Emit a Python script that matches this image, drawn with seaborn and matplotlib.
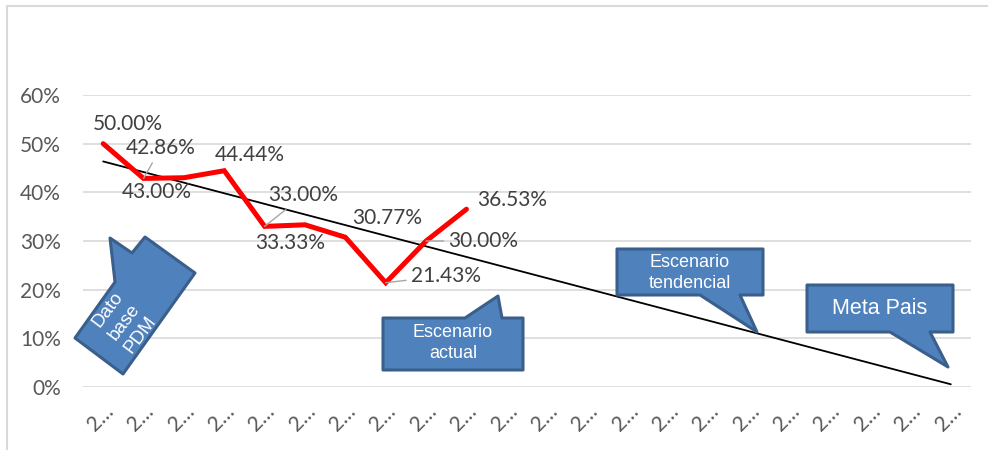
import numpy as np
import pandas as pd
import matplotlib
matplotlib.use('Agg')
import matplotlib.pyplot as plt
from matplotlib.patches import Polygon
from matplotlib.lines import Line2D
import seaborn as sns

# data
tick_labels = ['2\u2026'] * 22
actual = [0.50, 0.4286, 0.43, 0.4444, 0.33, 0.3333, 0.3077, 0.2143, 0.30, 0.3653]
actual_labels = ['50.00%', '42.86%', '43.00%', '44.44%', '33.00%',
                 '33.33%', '30.77%', '21.43%', '30.00%', '36.53%']
# label offsets (pixels) and whether a leader line is drawn
label_offsets = [(25, 20), (17, 30), (-27, -14), (26, 16), (39, 31),
                 (-15, -18), (42, 19), (60, 7), (57, 0), (46, 9)]
label_leader = [False, True, False, False, True, False, False, True, True, False]

W, H = 988, 450
sns.set_theme(style='white')
plt.rcParams['font.family'] = ['Lato', 'DejaVu Sans']

fig = plt.figure(figsize=(W / 100, H / 100), dpi=100)
ax = fig.add_axes([83 / W, 1 - 387 / H, (971 - 83) / W, (387 - 95) / H])

df = pd.DataFrame({'idx': np.arange(len(actual)), 'value': actual})

# Excel-style linear trendline, forecast to the last category
coef = np.polyfit(df['idx'], df['value'], 1)
trend_x = np.arange(len(tick_labels))
trend_df = pd.DataFrame({'idx': trend_x, 'value': np.polyval(coef, trend_x)})

sns.lineplot(data=trend_df, x='idx', y='value', ax=ax, color='black', lw=1.3, zorder=3)
sns.lineplot(data=df, x='idx', y='value', ax=ax, color='#FF0000', lw=3.6, zorder=4,
             solid_joinstyle='miter')

for i, (v, lab) in enumerate(zip(actual, actual_labels)):
    dx, dy = label_offsets[i]
    props = dict(arrowstyle='-', color='#A6A6A6', lw=1.0, shrinkA=1, shrinkB=0) if label_leader[i] else None
    ax.annotate(lab, xy=(i, v), xytext=(dx, dy), textcoords='offset pixels',
                ha='center', va='center', fontsize=15, color='#404040',
                arrowprops=props, zorder=5)

ax.set_xlim(-0.5, len(tick_labels) - 0.5)
ax.set_ylim(0, 0.6)
ax.set_yticks(np.arange(0, 0.61, 0.1))
ax.set_yticklabels([f'{int(round(t * 100))}%' for t in np.arange(0, 0.61, 0.1)])
ax.set_xticks(range(len(tick_labels)))
ax.set_xticklabels(tick_labels, rotation=45, ha='right', rotation_mode='anchor')
ax.tick_params(axis='y', labelsize=15, labelcolor='#595959', length=0, pad=16)
ax.tick_params(axis='x', labelsize=15, labelcolor='#595959', length=0, pad=10)
ax.set_xlabel('')
ax.set_ylabel('')
ax.grid(axis='y', color='#D9D9D9', lw=1.2)
ax.set_axisbelow(True)
for s in ax.spines.values():
    s.set_visible(False)

# chart border (top and left visible)
fig.add_artist(Line2D([7 / W, 1], [1 - 6 / H, 1 - 6 / H], transform=fig.transFigure, color='#D9D9D9', lw=1.5))
fig.add_artist(Line2D([7 / W, 7 / W], [0, 1 - 6 / H], transform=fig.transFigure, color='#D9D9D9', lw=1.5))


def fp(pts):
    return [(x / W, 1 - y / H) for x, y in pts]


callouts = [
    ([(110, 238), (132, 253), (145, 237), (195, 273), (123, 374), (75, 338), (115, 282)],
     (124, 322), 'Dato\nbase\nPDM', 53, 13.5, 1.3),
    ([(383, 318), (465, 318), (498, 296), (502, 318), (523, 318), (523, 370), (383, 370)],
     (453, 343), 'Escenario\nactual', 0, 13, 1.3),
    ([(617, 249), (763, 249), (763, 295), (740, 295), (757, 332), (700, 295), (617, 295)],
     (690, 273), 'Escenario\ntendencial', 0, 13, 1.25),
    ([(807, 285), (953, 285), (953, 332), (930, 332), (948, 367), (890, 332), (807, 332)],
     (880, 308), 'Meta Pais', 0, 15.5, 1.1),
]
for pts, (tx, ty), txt, rot, fs, ls in callouts:
    poly = Polygon(fp(pts), closed=True, transform=fig.transFigure, facecolor='#4F81BD',
                   edgecolor='#3A5F8B', lw=2.2, joinstyle='round', zorder=6)
    fig.add_artist(poly)
    t = fig.text(tx / W, 1 - ty / H, txt, ha='center', va='center', rotation=rot,
                 rotation_mode='anchor', color='white', fontsize=fs, linespacing=ls,
                 family=['Liberation Sans', 'DejaVu Sans'], zorder=7)
    t.set_clip_path(poly)

fig.savefig('out.png', dpi=100)
